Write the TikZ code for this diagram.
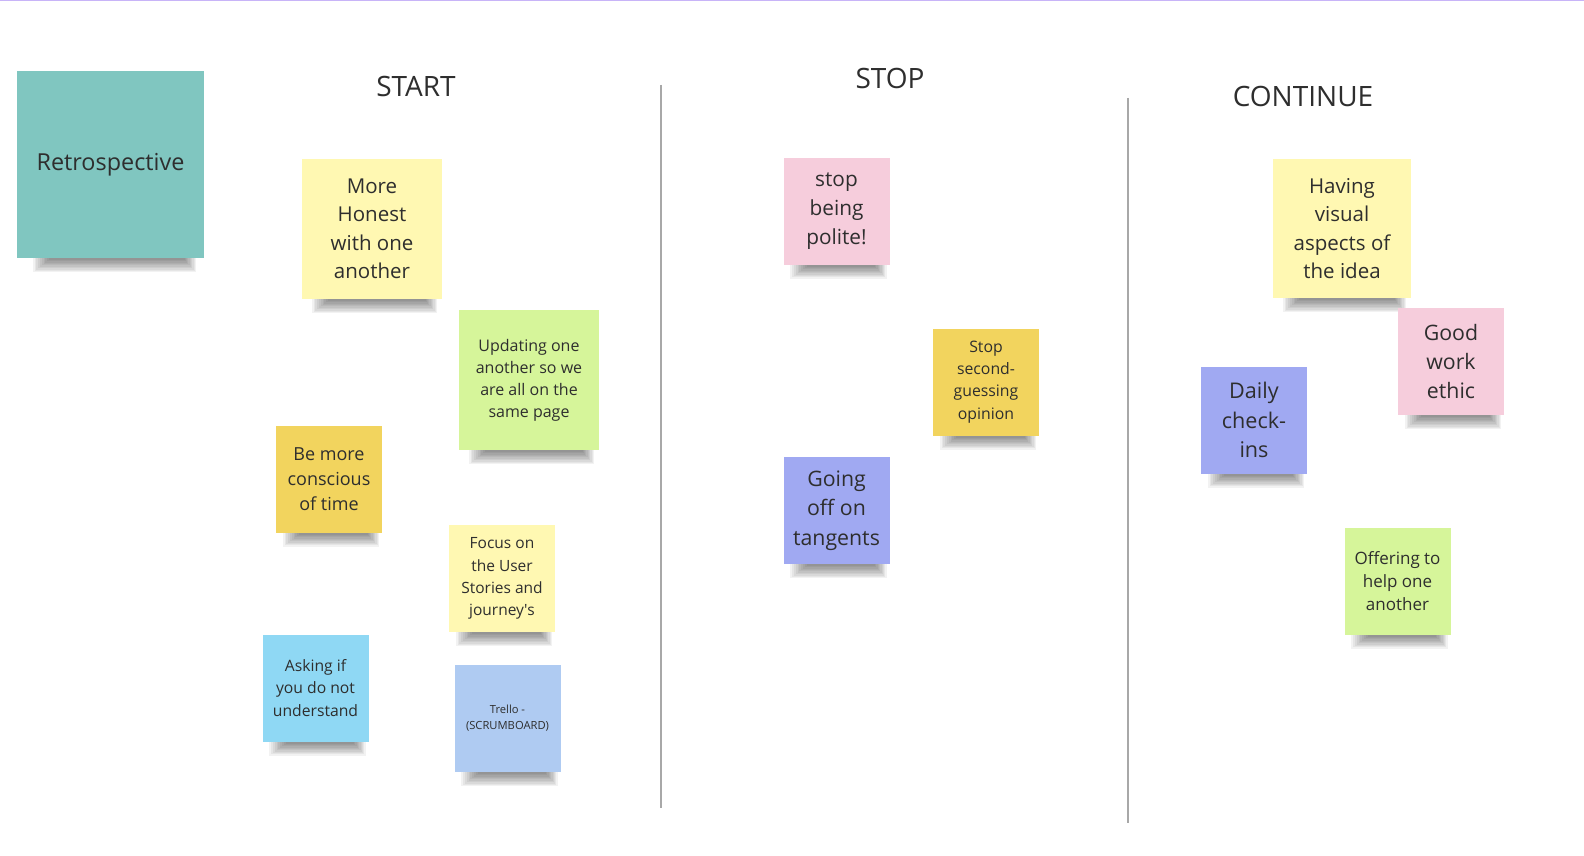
\documentclass[tikz,border=0pt]{standalone}
\usepackage{fontspec}
\setmainfont{Open Sans}
\usetikzlibrary{calc,backgrounds}
\definecolor{txt}{HTML}{2E2E2E}
\definecolor{teal}{HTML}{80C6C0}
\definecolor{lyellow}{HTML}{FFF8B2}
\definecolor{lgreen}{HTML}{D6F59A}
\definecolor{orangey}{HTML}{F2D45E}
\definecolor{skyblue}{HTML}{8FD8F4}
\definecolor{paleblue}{HTML}{AFCBF2}
\definecolor{pinkc}{HTML}{F6CDDC}
\definecolor{violetc}{HTML}{A0A9F2}
\definecolor{divider}{HTML}{A8A8A8}
\definecolor{topline}{HTML}{C8B4F8}
\tikzset{
  sticky/.style={rectangle, inner sep=0pt, align=center, text=txt},
  sq/.style={minimum width=106pt, minimum height=107pt},
  big/.style={minimum width=140pt, minimum height=140pt},
  heading/.style={text=txt, inner sep=0pt, font=\fontsize{28}{34}\selectfont},
  divline/.style={draw=divider, line width=1.6pt},
  shadowlayer/.style={fill=black, opacity=0.05}
}
\newcommand{\fs}[2]{\fontsize{#1}{#2}\selectfont}
% soft shadow under a sticky: #1 node name, #2 left inset, #3 right inset
\newcommand{\stickyshadow}[3]{%
  \foreach \i in {0,...,9}{%
    \fill[shadowlayer] ($(#1.south west)+(#2+1.8*\i,-1)$) rectangle ($(#1.south east)+(-#3-1.3*\i,14-1.35*\i)$);
  }%
}
\begin{document}
\begin{tikzpicture}[x=1pt,y=-1pt]
\useasboundingbox (0,0) rectangle (1584,856);
\begin{scope}[on background layer]
\fill[white] (0,0) rectangle (1584,856);
\end{scope}
\draw[topline, line width=2pt] (0,0.5) -- (1584,0.5);

% dividers
\coordinate (d1t) at (661,85);
\coordinate (d1b) at (661,808);
\coordinate (d2t) at (1128,98);
\coordinate (d2b) at (1128,823);
\draw[divline] (d1t) -- (d1b);
\draw[divline] (d2t) -- (d2b);

% headings
\node[heading] (start) at (416,86) {START};
\node[heading] (stop) at (890,78) {STOP};
\node[heading] (cont) at (1303,96) {CONTINUE};

% retrospective
\node[sticky, fill=teal, minimum width=187pt, minimum height=187pt, font=\fs{23.4}{30}] (retro) at (110.5,164.5) {Retrospective};

% START column
\node[sticky, big, fill=lyellow, font=\fs{20.5}{28.5}] (honest) at (372,229) {More\\Honest\\with one\\another};
\node[sticky, big, fill=lgreen, font=\fs{16}{22}] (updating) at (529,380) {Updating one\\another so we\\are all on the\\same page};
\node[sticky, sq, fill=orangey, font=\fs{18}{24.7}] (conscious) at (329,479) {Be more\\conscious\\of time};
\node[sticky, sq, fill=lyellow, font=\fs{15.5}{22.2}] (focus) at (502,578.5) {Focus on\\the User\\Stories and\\journey\textquotesingle s};
\node[sticky, sq, fill=skyblue, font=\fs{15.7}{22.2}] (asking) at (315.5,688) {Asking if\\you do not\\understand};
\node[sticky, sq, fill=paleblue, font=\fs{11.2}{16}] (trello) at (507.5,718.5) {Trello -\\(SCRUMBOARD)};

% STOP column
\node[sticky, sq, fill=pinkc, font=\fs{20.8}{29.3}] (polite) at (836.5,211) {stop\\being\\polite!};
\node[sticky, sq, fill=orangey, font=\fs{15.8}{22.2}] (second) at (986,382) {Stop\\second-\\guessing\\opinion};
\node[sticky, sq, fill=violetc, font=\fs{21.3}{29.6}] (going) at (836.5,510.5) {Going\\off on\\tangents};

% CONTINUE column
\node[sticky, fill=lyellow, minimum width=138pt, minimum height=139pt, font=\fs{20.5}{28.3}] (having) at (1342,228.5) {Having\\visual\\aspects of\\the idea};
\node[sticky, sq, fill=pinkc, font=\fs{21.3}{29.3}] (good) at (1451,361.5) {Good\\work\\ethic};
\node[sticky, sq, fill=violetc, font=\fs{21.6}{29.3}] (daily) at (1254,420) {Daily\\check-\\ins};
\node[sticky, sq, fill=lgreen, font=\fs{17}{23}] (offering) at (1397.5,581) {Offering to\\help one\\another};

% shadows
\begin{scope}[on background layer]
\stickyshadow{retro}{16}{8}
\foreach \n in {honest,updating,having}{\stickyshadow{\n}{10}{5}}
\foreach \n in {conscious,focus,asking,trello,polite,second,going,good,daily,offering}{\stickyshadow{\n}{7}{3}}
\end{scope}
\end{tikzpicture}
\end{document}
